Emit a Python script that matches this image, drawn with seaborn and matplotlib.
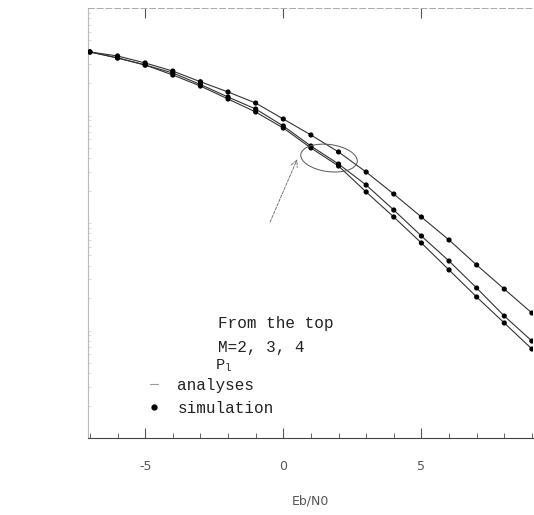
import numpy as np
import pandas as pd
import matplotlib
matplotlib.use("Agg")
import matplotlib.pyplot as plt
import seaborn as sns
from matplotlib.patches import Ellipse
from matplotlib.lines import Line2D

# ---- data ----
ebn0 = [-7, -6, -5, -4, -3, -2, -1, 0, 1, 2, 3, 4, 5, 6, 7, 8, 9]
p_m2 = [0.390, 0.358, 0.308, 0.259, 0.206, 0.1655, 0.1306, 0.0928, 0.0659, 0.0458,
        0.0298, 0.0186, 0.01137, 0.00695, 0.00407, 0.00243, 0.001455]
p_m3 = [0.390, 0.343, 0.295, 0.2485, 0.1943, 0.1486, 0.1149, 0.0799, 0.0520, 0.0354,
        0.02257, 0.01321, 0.00757, 0.00443, 0.002485, 0.001364, 0.000798]
p_m4 = [0.390, 0.343, 0.295, 0.238, 0.188, 0.1424, 0.1078, 0.0765, 0.0499, 0.0339,
        0.01943, 0.01137, 0.00652, 0.00366, 0.00205, 0.001175, 0.000673]
m_values = ["M=2", "M=3", "M=4"]
x_ticks = [-5, 0, 5]
x_tick_labels = ["-5", "0", "5"]

df = pd.DataFrame({
    "Eb/N0": ebn0 * 3,
    "P": p_m2 + p_m3 + p_m4,
    "M": sum([[m] * len(ebn0) for m in m_values], []),
})

sns.set_theme(style="white")
plt.rcParams["font.family"] = ["DejaVu Sans"]

fig = plt.figure(figsize=(5.34, 5.15), dpi=100)
ax = fig.add_axes([88 / 534, 1 - 438 / 515, 445 / 534, 430 / 515])

pal = {m: "#333333" for m in m_values}
sns.lineplot(data=df, x="Eb/N0", y="P", hue="M", palette=pal, linewidth=0.8,
             legend=False, ax=ax, estimator=None)
sns.scatterplot(data=df, x="Eb/N0", y="P", hue="M", palette={m: "black" for m in m_values},
                s=14, linewidth=0, legend=False, ax=ax, zorder=3)

ax.set_yscale("log")
ax.set_ylim(1e-4, 1)
ax.set_xlim(-7.07, 9.04)

ax.set_xticks(x_ticks)
ax.set_xticklabels(x_tick_labels)
ax.set_xticks(np.arange(-7, 10, 1), minor=True)
ax.tick_params(axis="x", which="major", direction="in", length=7, width=0.8,
               colors="#555555", labelsize=9, pad=16, top=True, bottom=True)
ax.tick_params(axis="x", which="minor", direction="in", length=3.5, width=0.7,
               colors="#666666", bottom=True, top=False)
ax.tick_params(axis="y", which="both", direction="in", length=2, width=0.5,
               colors="#cccccc", labelleft=False, left=True)
ax.set_ylabel("")
ax.set_xlabel("Eb/N0", color="#555555", fontsize=9, labelpad=15)

for side in ["left", "top", "bottom", "right"]:
    ax.spines[side].set_visible(True)
ax.spines["left"].set_color("#bbbbbb")
ax.spines["left"].set_linewidth(0.8)
ax.spines["top"].set_color("#aaaaaa")
ax.spines["top"].set_linewidth(0.7)
ax.spines["top"].set_linestyle((0, (6, 3)))
ax.spines["bottom"].set_color("#444444")
ax.spines["bottom"].set_linewidth(0.8)
ax.spines["right"].set_visible(False)

serif = ["Liberation Mono", "DejaVu Sans Mono"]

# annotation
ell = Ellipse((0.5416, 0.651), 0.128, 0.063, angle=-8, transform=ax.transAxes,
              fill=False, lw=0.7, ec="#555555", zorder=4)
ax.add_patch(ell)
ax.annotate("", xy=(0.470, 0.648), xytext=(0.409, 0.502), xycoords="axes fraction",
            arrowprops=dict(arrowstyle="->", lw=0.6, ls="--", color="#666666",
                            shrinkA=0, shrinkB=0))
ax.text(0.292, 0.256, "From the top", transform=ax.transAxes, fontsize=11.5,
        family=serif, color="#222222", va="baseline")
ax.text(0.292, 0.200, "M=2, 3, 4", transform=ax.transAxes, fontsize=11.5,
        family=serif, color="#222222", va="baseline")

# legend
ax.text(0.286, 0.159, "P$_\\mathregular{l}$", transform=ax.transAxes, fontsize=11,
        family=serif, color="#222222", va="baseline")
handles = [Line2D([], [], color="#999999", lw=0.8),
           Line2D([], [], color="black", lw=0, marker="o", markersize=3.5)]
leg = ax.legend(handles, ["analyses", "simulation"],
                loc="upper left", bbox_to_anchor=(0.122, 0.159), frameon=False,
                borderpad=0, handlelength=0.5, handletextpad=1.2, labelspacing=0.5,
                prop={"family": serif, "size": 11.5})
for t in leg.get_texts():
    t.set_color("#222222")

fig.savefig("out.png", dpi=100)
